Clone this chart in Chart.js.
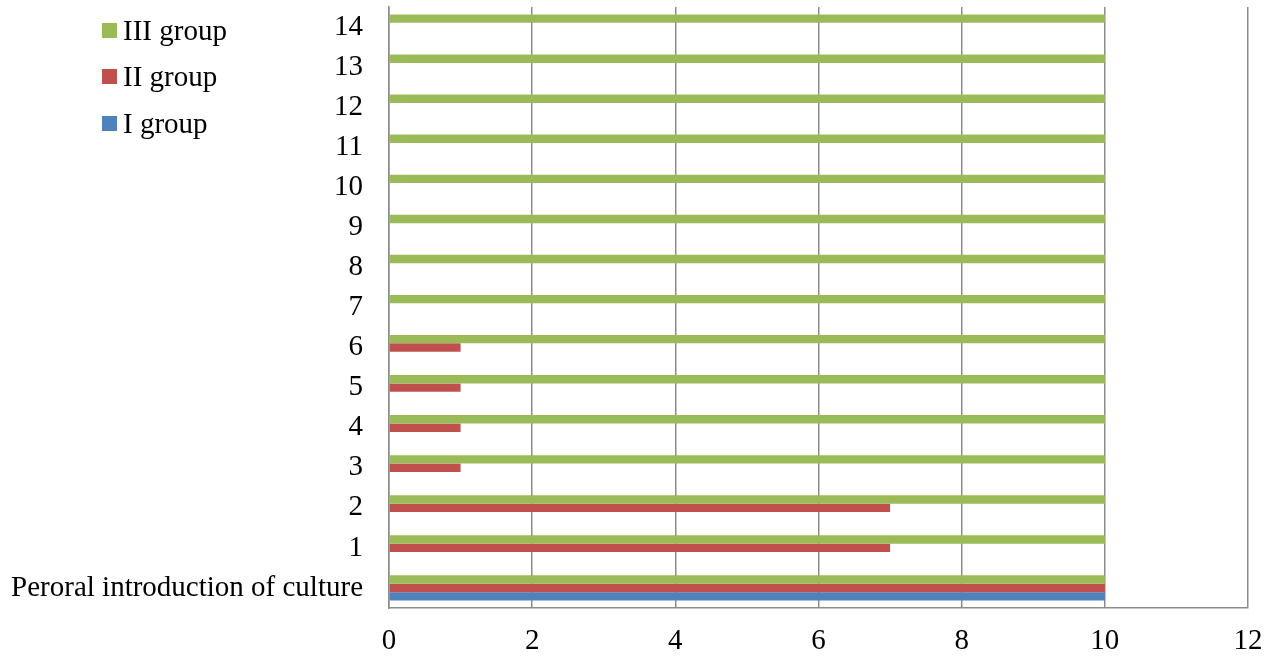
<!DOCTYPE html>
<html>
<head>
<meta charset="utf-8">
<script src="https://cdn.jsdelivr.net/npm/chart.js@4"></script>
<style>
  body { margin: 0; background: #fff; }
  #wrap { position: relative; width: 1271px; height: 657px; }
  #legend { position: absolute; left: 102px; top: 14.5px; font-family: "Liberation Serif", "Times New Roman", serif; font-size: 29px; color: #000; }
  #legend .item { height: 30px; line-height: 30px; margin-bottom: 16.5px; white-space: nowrap; }
  #legend .box { display: inline-block; width: 15px; height: 15px; margin-right: 6px; vertical-align: 2px; }
</style>
</head>
<body>
<div id="wrap">
  <canvas id="chart"></canvas>
  <div id="legend"></div>
</div>
<script>
// categories, bottom to top
const categories = ['Peroral introduction of culture', '1', '2', '3', '4', '5', '6', '7', '8', '9', '10', '11', '12', '13', '14'];

const groupIII = [10, 10, 10, 10, 10, 10, 10, 10, 10, 10, 10, 10, 10, 10, 10];
const groupII  = [10, 7, 7, 1, 1, 1, 1, 0, 0, 0, 0, 0, 0, 0, 0];
const groupI   = [10, 0, 0, 0, 0, 0, 0, 0, 0, 0, 0, 0, 0, 0, 0];

const xTicks = [0, 2, 4, 6, 8, 10, 12];

const font = { family: '"Liberation Serif", "Times New Roman", serif', size: 29 };
const gridColor = '#8c8c8c';

const chart = new Chart(document.getElementById('chart'), {
    type: 'bar',
    data: {
        labels: categories,
        datasets: [
            { label: 'III group', data: groupIII, backgroundColor: '#9BBB59' },
            { label: 'II group', data: groupII, backgroundColor: '#C0504D' },
            { label: 'I group', data: groupI, backgroundColor: '#4F81BD' }
        ]
    },
    options: {
        indexAxis: 'y',
        responsive: true,
        maintainAspectRatio: false,
        animation: false,
        layout: { padding: { top: 7, right: 23, left: 0, bottom: 0 } },
        datasets: {
            bar: { categoryPercentage: 0.63, barPercentage: 1, borderWidth: 0 }
        },
        plugins: {
            legend: { display: false },
            tooltip: { enabled: false }
        },
        scales: {
            x: {
                min: 0,
                max: 12,
                afterBuildTicks: (scale) => { scale.ticks = xTicks.map(v => ({ value: v })); },
                afterFit: (scale) => {
                    scale.height = 49;
                    scale.paddingLeft = 0;
                    scale.paddingRight = 0;
                },
                ticks: { color: '#000', font: font, padding: 16 },
                grid: { color: gridColor, lineWidth: 1.5, drawTicks: false },
                border: { color: gridColor, width: 1.5 }
            },
            y: {
                reverse: true,
                afterFit: (scale) => {
                    scale.width = 389;
                    scale.paddingTop = 0;
                    scale.paddingBottom = 0;
                },
                ticks: { color: '#000', font: font, padding: 26, autoSkip: false },
                grid: { display: false, drawTicks: false },
                border: { color: gridColor, width: 1.5 }
            }
        }
    }
});

// legend outside the canvas, same order as the datasets
const legend = document.getElementById('legend');
chart.data.datasets.forEach(ds => {
    const row = document.createElement('div');
    row.className = 'item';
    const box = document.createElement('span');
    box.className = 'box';
    box.style.background = ds.backgroundColor;
    row.appendChild(box);
    row.appendChild(document.createTextNode(ds.label));
    legend.appendChild(row);
});
</script>
</body>
</html>
